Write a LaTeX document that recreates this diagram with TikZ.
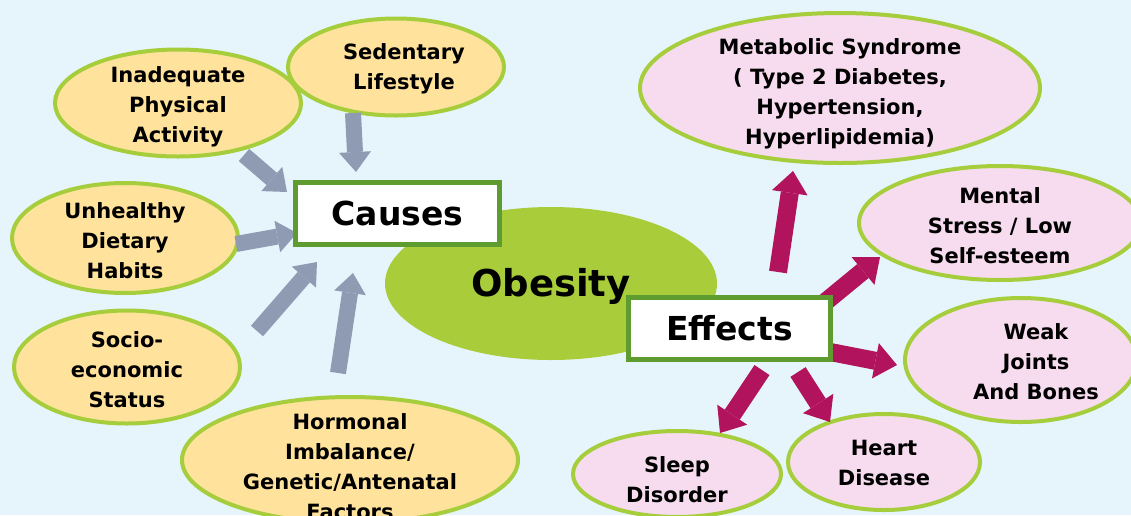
\documentclass[tikz,border=0pt]{standalone}
\usepackage{fontspec}
\setmainfont{DejaVu Sans}
\usetikzlibrary{shapes.geometric,arrows.meta}
\definecolor{bgblue}{HTML}{E6F5FC}
\definecolor{yfill}{HTML}{FFE29B}
\definecolor{egreen}{HTML}{A6CD3C}
\definecolor{pfill}{HTML}{F6DCEE}
\definecolor{obgreen}{HTML}{A9CD3A}
\definecolor{bgreen}{HTML}{5F9C2F}
\definecolor{garr}{HTML}{8E9BB3}
\definecolor{marr}{HTML}{B1135C}
\begin{document}
\begin{tikzpicture}[x=1pt,y=-1pt,
  ell/.style={ellipse, draw=egreen, line width=4pt, inner sep=0pt},
  yel/.style={ell, fill=yfill},
  pnk/.style={ell, fill=pfill},
  lbl/.style={align=center, inner sep=0pt, font=\bfseries\fontsize{21}{30}\selectfont},
  boxnode/.style={draw=bgreen, line width=5pt, fill=white, inner sep=0pt,
    font=\bfseries\fontsize{33}{36}\selectfont},
  garrow/.style={draw=garr, line width=16pt,
    -{Triangle[length=20pt,width=32pt,line width'=0pt]}},
  marrow/.style={draw=marr, line width=18pt,
    -{Triangle[length=22pt,width=36pt,line width'=0pt]}}]
\fill[bgblue] (0,0) rectangle (1131,515);
\useasboundingbox (0,0) rectangle (1131,515);

% central ellipse
\node[ellipse, fill=obgreen, inner sep=0pt, minimum width=332pt, minimum height=153pt] (obes) at (551,283.5) {};

% causes ellipses
\node[yel, minimum width=246pt, minimum height=107pt] (ina) at (178,103) {};
\node[yel, minimum width=216pt, minimum height=97pt] (sed) at (396,67) {};
\node[yel, minimum width=226pt, minimum height=110pt] (unh) at (125,238) {};
\node[yel, minimum width=226pt, minimum height=113pt] (soc) at (127,367) {};
\node[yel, minimum width=336pt, minimum height=126pt] (hor) at (350,460) {};

% effects ellipses
\node[pnk, minimum width=400pt, minimum height=150pt] (met) at (840,88) {};
\node[pnk, minimum width=282pt, minimum height=114pt] (men) at (1000,223) {};
\node[pnk, minimum width=232pt, minimum height=124pt] (weak) at (1021,360) {};
\node[pnk, minimum width=208pt, minimum height=86pt] (slp) at (677,474) {};
\node[pnk, minimum width=192pt, minimum height=96pt] (hrt) at (884,462) {};

% arrow end points
\coordinate (a1s) at (244,155); \coordinate (a1e) at (287,192);
\coordinate (a2s) at (353,113); \coordinate (a2e) at (356,172);
\coordinate (a3s) at (236,244); \coordinate (a3e) at (297,233);
\coordinate (a4s) at (257,331); \coordinate (a4e) at (317,262);
\coordinate (a5s) at (338,373); \coordinate (a5e) at (353,273);
\coordinate (m1s) at (778,272); \coordinate (m1e) at (793,171);
\coordinate (m2s) at (818,308); \coordinate (m2e) at (880,257);
\coordinate (m3s) at (820,350); \coordinate (m3e) at (897,365);
\coordinate (m4s) at (762,370); \coordinate (m4e) at (720,433);
\coordinate (m5s) at (798,372); \coordinate (m5e) at (830,422);

\draw[garrow] (a1s) -- (a1e);
\draw[garrow] (a2s) -- (a2e);
\draw[garrow] (a3s) -- (a3e);
\draw[garrow] (a4s) -- (a4e);
\draw[garrow] (a5s) -- (a5e);
\draw[marrow] (m1s) -- (m1e);
\draw[marrow] (m2s) -- (m2e);
\draw[marrow] (m3s) -- (m3e);
\draw[marrow] (m4s) -- (m4e);
\draw[marrow] (m5s) -- (m5e);

% boxes
\node[boxnode, minimum width=204pt, minimum height=62pt] (causes) at (397.5,213.5) {Causes};
\node[boxnode, minimum width=202pt, minimum height=62pt] (effects) at (729.5,328.5) {Effects};
\node[font=\bfseries\fontsize{37}{40}\selectfont, inner sep=0pt] (obesT) at (551,286) {Obesity};

% labels
\node[lbl, yshift=-4pt] (inaT) at (ina) {Inadequate\\Physical\\Activity};
\node[lbl, xshift=8pt, yshift=-2pt] (sedT) at (sed) {Sedentary\\Lifestyle};
\node[lbl, yshift=-3pt] (unhT) at (unh) {Unhealthy\\Dietary\\Habits};
\node[lbl, yshift=-3pt] (socT) at (soc) {Socio-\\economic\\Status};
\node[lbl, yshift=-7pt] (horT) at (hor) {Hormonal\\Imbalance/\\Genetic/Antenatal\\Factors};
\node[lbl, yshift=-6pt] (metT) at (met) {Metabolic Syndrome\\( Type 2 Diabetes,\\Hypertension,\\Hyperlipidemia)};
\node[lbl, yshift=-3pt] (menT) at (men) {Mental\\Stress / Low\\Self-esteem};
\node[lbl, xshift=15pt, yshift=-2pt] (weakT) at (weak) {Weak\\Joints\\And Bones};
\node[lbl, yshift=-6pt] (slpT) at (slp) {Sleep\\Disorder};
\node[lbl, yshift=-1pt] (hrtT) at (hrt) {Heart\\Disease};
\end{tikzpicture}
\end{document}
